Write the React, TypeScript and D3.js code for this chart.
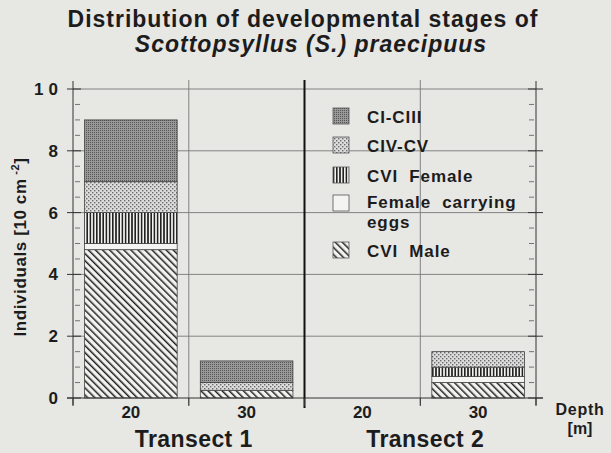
import React from 'react';
import * as d3 from 'd3';

// chart values
const transects = ['Transect 1', 'Transect 2'];
const depths = ['20', '30'];
// stack order, bottom to top
const stages = ['CVI Male', 'Female carrying eggs', 'CVI Female', 'CIV-CV', 'CI-CIII'];
// values in order: T1-20, T1-30, T2-20, T2-30
const cviMale = [4.8, 0.25, 0, 0.5];
const femaleEggs = [0.2, 0, 0, 0.2];
const cviFemale = [1.0, 0, 0, 0.3];
const civCv = [1.0, 0.25, 0, 0.5];
const ciCiii = [2.0, 0.7, 0, 0];
const yTicks = [0, 2, 4, 6, 8, 10];
const legendOrder = ['CI-CIII', 'CIV-CV', 'CVI Female', 'Female carrying eggs', 'CVI Male'];

const W = 611;
const H = 453;
const FONT = '"Liberation Sans", Arial, sans-serif';
const INK = '#1c1c1c';

const patternId: Record<string, string> = {
  'CI-CIII': 'p-ci',
  'CIV-CV': 'p-civ',
  'CVI Female': 'p-fem',
  'Female carrying eggs': 'p-eggs',
  'CVI Male': 'p-male',
};

export default function App() {
  const rows = transects.flatMap((t, ti) =>
    depths.map((d, di) => {
      const i = ti * depths.length + di;
      return {
        transect: t,
        depth: d,
        'CVI Male': cviMale[i],
        'Female carrying eggs': femaleEggs[i],
        'CVI Female': cviFemale[i],
        'CIV-CV': civCv[i],
        'CI-CIII': ciCiii[i],
      };
    })
  );

  const x0 = d3.scaleBand<string>().domain(transects).range([73, 536]);
  const x1 = d3
    .scaleBand<string>()
    .domain(depths)
    .range([0, x0.bandwidth()])
    .paddingInner(0.2)
    .paddingOuter(0.1);
  const y = d3.scaleLinear().domain([0, 10]).range([398, 89]);

  const stack = d3.stack<any>().keys(stages);
  const series = stack(rows);

  const left = x0.range()[0];
  const right = x0.range()[1];
  const slot = x1.step();

  // slot boundaries between depth categories
  const slotEdges: number[] = [];
  transects.forEach((t) => {
    depths.forEach((d) => {
      const c = (x0(t) as number) + (x1(d) as number) + x1.bandwidth() / 2;
      slotEdges.push(c - slot / 2, c + slot / 2);
    });
  });
  const edges = Array.from(new Set(slotEdges.map((v) => Math.round(v * 10) / 10))).sort((a, b) => a - b);
  const divider = x0('Transect 2') as number;

  const minor = d3.range(0, 10.01, 0.5).filter((v) => v % 2 !== 0);

  return (
    <svg
      width={W}
      height={H}
      style={{ position: 'absolute', left: 0, top: 0, background: '#e7e7e4' }}
      fontFamily={FONT}
    >
      <defs>
        <pattern id="p-ci" width="2" height="2" patternUnits="userSpaceOnUse">
          <rect width="2" height="2" fill="#999" />
          <rect width="1" height="1" fill="#555" />
        </pattern>
        <pattern id="p-civ" width="4" height="4" patternUnits="userSpaceOnUse">
          <rect width="4" height="4" fill="#dcdcdc" />
          <rect x="0" y="0" width="1.4" height="1.4" fill="#6a6a6a" />
          <rect x="2" y="2" width="1.4" height="1.4" fill="#6a6a6a" />
        </pattern>
        <pattern id="p-fem" width="3.2" height="4" patternUnits="userSpaceOnUse">
          <rect width="3.2" height="4" fill="#f2f2f0" />
          <rect x="0" width="1.6" height="4" fill="#222" />
        </pattern>
        <pattern id="p-eggs" width="4" height="4" patternUnits="userSpaceOnUse">
          <rect width="4" height="4" fill="#f4f4f2" />
        </pattern>
        <pattern
          id="p-male"
          width="5"
          height="5"
          patternUnits="userSpaceOnUse"
          patternTransform="rotate(-45)"
        >
          <rect width="5" height="5" fill="#f2f2f0" />
          <rect x="0" width="1.5" height="5" fill="#222" />
        </pattern>
      </defs>

      {/* title */}
      <text
        x={303}
        y={27}
        textAnchor="middle"
        fontSize={23}
        letterSpacing={1}
        fontWeight="bold"
        fill={INK}
      >
        Distribution of developmental stages of
      </text>
      <text
        x={311}
        y={52}
        textAnchor="middle"
        fontSize={23}
        letterSpacing={1}
        fontWeight="bold"
        fontStyle="italic"
        fill={INK}
      >
        Scottopsyllus (S.) praecipuus
      </text>

      {/* horizontal grid */}
      {yTicks
        .filter((v) => v > 0)
        .map((v) => (
          <line key={'g' + v} x1={left} x2={right} y1={y(v)} y2={y(v)} stroke="#6a6a6a" strokeWidth={0.8} />
        ))}

      {/* vertical slot lines */}
      {edges
        .filter((e) => e > left + 1 && e < right - 1 && Math.abs(e - divider) > 1)
        .map((e) => (
          <line key={'v' + e} x1={e} x2={e} y1={80} y2={405} stroke="#777" strokeWidth={0.9} />
        ))}

      {/* bars */}
      {series.map((s) => (
        <g key={s.key}>
          {s.map((dpt, i) => {
            const r = rows[i];
            const h = y(dpt[0]) - y(dpt[1]);
            if (h <= 0) return null;
            return (
              <rect
                key={i}
                x={(x0(r.transect) as number) + (x1(r.depth) as number)}
                y={y(dpt[1])}
                width={x1.bandwidth()}
                height={h}
                fill={`url(#${patternId[s.key]})`}
                stroke="#444"
                strokeWidth={0.8}
              />
            );
          })}
        </g>
      ))}

      {/* axes frame */}
      <line x1={left} x2={left} y1={81} y2={405} stroke="#333" strokeWidth={1} />
      <line x1={right} x2={right} y1={81} y2={405} stroke="#333" strokeWidth={1} />
      <line x1={left - 6} x2={right + 7} y1={y(0)} y2={y(0)} stroke="#333" strokeWidth={1} />
      <line x1={divider} x2={divider} y1={80} y2={408} stroke="#111" strokeWidth={2} />

      {/* ticks */}
      {yTicks.map((v) => (
        <g key={'t' + v}>
          <line x1={left - 6} x2={left + 8} y1={y(v)} y2={y(v)} stroke="#333" strokeWidth={1} />
          <line x1={right - 8} x2={right + 7} y1={y(v)} y2={y(v)} stroke="#333" strokeWidth={1} />
        </g>
      ))}
      {minor.map((v) => (
        <g key={'m' + v}>
          <line x1={left + 2} x2={left + 7} y1={y(v)} y2={y(v)} stroke="#555" strokeWidth={0.8} />
          <line x1={right - 7} x2={right - 2} y1={y(v)} y2={y(v)} stroke="#555" strokeWidth={0.8} />
        </g>
      ))}
      {edges.map((e) => (
        <line key={'bt' + e} x1={e} x2={e} y1={y(0)} y2={406} stroke="#333" strokeWidth={1} />
      ))}

      {/* y tick labels */}
      {yTicks.map((v) => (
        <text
          key={'l' + v}
          x={v === 10 ? 63 : 58}
          y={y(v) + 6}
          textAnchor="end"
          fontSize={17}
          fontWeight="bold"
          fill={INK}
          letterSpacing={v === 10 ? 5 : 0}
        >
          {v}
        </text>
      ))}

      {/* y axis title */}
      <text
        transform="translate(26,247) rotate(-90)"
        textAnchor="middle"
        fontSize={17}
        letterSpacing={0.6}
        fontWeight="bold"
        fill={INK}
      >
        Individuals [10 cm
        <tspan dy={-7} fontSize={11}>
          {' '}-2
        </tspan>
        <tspan dy={7}>]</tspan>
      </text>

      {/* x labels */}
      {transects.map((t) => (
        <g key={t}>
          {depths.map((d) => (
            <text
              key={d}
              x={(x0(t) as number) + (x1(d) as number) + x1.bandwidth() / 2}
              y={418}
              textAnchor="middle"
              fontSize={17}
              fontWeight="bold"
              fill={INK}
            >
              {d}
            </text>
          ))}
          <text
            x={(x0(t) as number) + x0.bandwidth() / 2 + 5}
            y={447}
            textAnchor="middle"
            fontSize={23}
            letterSpacing={0.4}
            fontWeight="bold"
            fill={INK}
          >
            {t}
          </text>
        </g>
      ))}
      <text x={580} y={415} textAnchor="middle" fontSize={16} letterSpacing={0.7} fontWeight="bold" fill={INK}>
        Depth
      </text>
      <text x={580} y={434} textAnchor="middle" fontSize={16} fontWeight="bold" fill={INK}>
        [m]
      </text>

      {/* legend */}
      {legendOrder.map((k, i) => {
        const tops = [108, 137, 167, 195, 242];
        const top = tops[i];
        const lines = k === 'Female carrying eggs' ? ['Female  carrying', 'eggs'] : [k.replace(' ', '  ')];
        return (
          <g key={k}>
            <rect
              x={333}
              y={top}
              width={16}
              height={16}
              fill={`url(#${patternId[k]})`}
              stroke="#555"
              strokeWidth={0.8}
            />
            {lines.map((ln, j) => (
              <text
                key={j}
                x={367}
                y={top + 15 - (lines.length > 1 ? 2 : 0) + j * 20}
                fontSize={17}
                letterSpacing={0.9}
                fontWeight="bold"
                fill={INK}
                style={{ whiteSpace: 'pre' }}
              >
                {ln}
              </text>
            ))}
          </g>
        );
      })}
    </svg>
  );
}
